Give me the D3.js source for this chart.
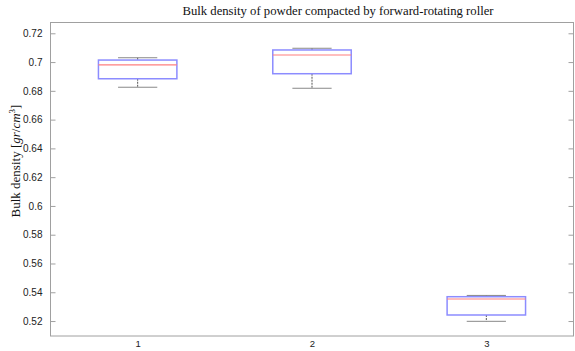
<!DOCTYPE html>
<html>
<head>
<meta charset="utf-8">
<title>Bulk density boxplot</title>
<script src="https://d3js.org/d3.v7.min.js"></script>
<style>
  body { margin: 0; background: #fff; }
  .tick text { font-family: "Liberation Sans", Arial, sans-serif; font-size: 10px; fill: #222; }
</style>
</head>
<body>
<script>
// groups and box statistics
const groups = ["1", "2", "3"];
const lowWhisker = [0.6825, 0.6818, 0.5198];
const q1 = [0.6884, 0.6919, 0.5242];
const median = [0.6980, 0.7049, 0.5353];
const q3 = [0.7014, 0.7084, 0.5369];
const highWhisker = [0.7030, 0.7096, 0.5378];
const yTicks = [0.52, 0.54, 0.56, 0.58, 0.6, 0.62, 0.64, 0.66, 0.68, 0.7, 0.72];

const width = 575, height = 351;
const margin = {top: 22.5, right: 1.5, bottom: 15, left: 50.5};

const svg = d3.select("body").append("svg")
  .attr("width", width)
  .attr("height", height);

const x = d3.scaleLinear().domain([0.5, 3.5]).range([margin.left, width - margin.right]);
const y = d3.scaleLinear().domain([0.5096, 0.7275]).range([height - margin.bottom, margin.top]);

const axisColor = "#a0a0a0";

// frame
svg.append("rect")
  .attr("x", margin.left).attr("y", margin.top)
  .attr("width", width - margin.left - margin.right)
  .attr("height", height - margin.top - margin.bottom)
  .attr("fill", "none").attr("stroke", axisColor).attr("stroke-width", 1);

// left axis
const yAxis = svg.append("g")
  .attr("transform", "translate(" + margin.left + ",0)")
  .call(d3.axisLeft(y).tickValues(yTicks).tickSize(-5).tickPadding(8).tickFormat(d => d3.format("~g")(d)));
yAxis.select(".domain").remove();
yAxis.selectAll(".tick line").attr("stroke", axisColor);

// right ticks
const yRight = svg.append("g")
  .attr("transform", "translate(" + (width - margin.right) + ",0)")
  .call(d3.axisRight(y).tickValues(yTicks).tickSize(-5).tickFormat(""));
yRight.select(".domain").remove();
yRight.selectAll(".tick line").attr("stroke", axisColor);

// bottom labels
const xAxis = svg.append("g")
  .attr("transform", "translate(0," + (height - margin.bottom) + ")")
  .call(d3.axisBottom(x).tickValues([1, 2, 3]).tickSize(0).tickPadding(4).tickFormat((d, i) => groups[i]));
xAxis.select(".domain").remove();
xAxis.selectAll("text").style("font-size", "9.5px");

const boxW = 0.45, capW = 0.225;

const boxes = svg.append("g").selectAll("g").data(groups).join("g");

// whiskers
boxes.append("line")
  .attr("x1", (d, i) => x(i + 1)).attr("x2", (d, i) => x(i + 1))
  .attr("y1", (d, i) => y(highWhisker[i])).attr("y2", (d, i) => y(q3[i]))
  .attr("stroke", "#555").attr("stroke-dasharray", "2,1");
boxes.append("line")
  .attr("x1", (d, i) => x(i + 1)).attr("x2", (d, i) => x(i + 1))
  .attr("y1", (d, i) => y(q1[i])).attr("y2", (d, i) => y(lowWhisker[i]))
  .attr("stroke", "#555").attr("stroke-dasharray", "2,1");

// caps
[highWhisker, lowWhisker].forEach(arr => {
  boxes.append("line")
    .attr("x1", (d, i) => x(i + 1 - capW / 2)).attr("x2", (d, i) => x(i + 1 + capW / 2))
    .attr("y1", (d, i) => y(arr[i])).attr("y2", (d, i) => y(arr[i]))
    .attr("stroke", "#888");
});

// box
boxes.append("rect")
  .attr("x", (d, i) => x(i + 1 - boxW / 2))
  .attr("width", x(1 + boxW / 2) - x(1 - boxW / 2))
  .attr("y", (d, i) => y(q3[i]))
  .attr("height", (d, i) => y(q1[i]) - y(q3[i]))
  .attr("fill", "none").attr("stroke", "#8c8cff").attr("stroke-width", 1.5);

// median
boxes.append("line")
  .attr("x1", (d, i) => x(i + 1 - boxW / 2)).attr("x2", (d, i) => x(i + 1 + boxW / 2))
  .attr("y1", (d, i) => y(median[i])).attr("y2", (d, i) => y(median[i]))
  .attr("stroke", "#ff7f7f").attr("stroke-width", 1.2);

// title
svg.append("text")
  .attr("x", 338).attr("y", 15)
  .attr("text-anchor", "middle")
  .style("font-family", "'Liberation Serif', 'DejaVu Serif', serif")
  .style("font-size", "12.7px")
  .style("fill", "#111")
  .text("Bulk density of powder compacted by forward-rotating roller");

// y label
const yl = svg.append("text")
  .attr("transform", "translate(20,161) rotate(-90)")
  .attr("text-anchor", "middle")
  .style("font-family", "'Liberation Serif', 'DejaVu Serif', serif")
  .style("font-size", "13px")
  .style("fill", "#111");
yl.append("tspan").text("Bulk density [");
yl.append("tspan").style("font-style", "italic").text("gr");
yl.append("tspan").text("/");
yl.append("tspan").style("font-style", "italic").text("cm");
yl.append("tspan").attr("dy", -5).style("font-size", "9px").text("3");
yl.append("tspan").attr("dy", 5).text("]");
</script>
</body>
</html>
